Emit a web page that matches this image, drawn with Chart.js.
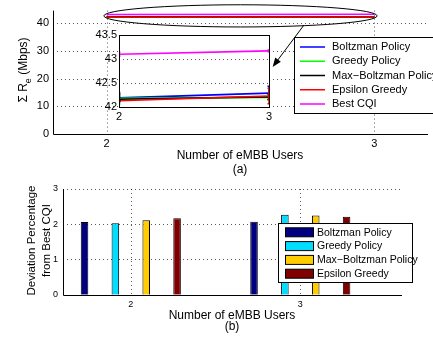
<!DOCTYPE html>
<html>
<head>
<meta charset="utf-8">
<script src="https://cdn.jsdelivr.net/npm/chart.js@4.4.1/dist/chart.umd.min.js"></script>
<style>
  html, body { margin: 0; padding: 0; background: #fff; overflow: hidden; }
  #wrap { position: relative; width: 433px; height: 338px; }
  canvas { position: absolute; }
  #top { left: 0; top: 0; }
  #inset { left: 80px; top: 25px; }
  #bottom { left: 0; top: 178px; }
</style>
</head>
<body>
<div id="wrap">
  <canvas id="top" width="433" height="178" style="width:433px;height:178px"></canvas>
  <canvas id="inset" width="200" height="110" style="width:200px;height:110px"></canvas>
  <canvas id="bottom" width="433" height="160" style="width:433px;height:160px"></canvas>
</div>
<script>
// number of eMBB users (x values)
const users = [2, 3];
const policyNames = ['Boltzman Policy', 'Greedy Policy', 'Max\u2212Boltzman Policy', 'Epsilon Greedy', 'Best CQI'];

// (a) sum rate, Mbps
const boltzmanRate = [42.19, 42.29];
const greedyRate = [42.18, 42.20];
const maxBoltzmanRate = [42.16, 42.21];
const epsilonRate = [42.13, 42.23];
const bestCqiRate = [43.10, 43.17];
// half-width of the error bars seen in the zoomed inset
const boltzmanErr = [0.06, 0.14];
const greedyErr = [0.12, 0.05];
const maxBoltzmanErr = [0.05, 0.05];
const epsilonErr = [0.15, 0.16];
const bestCqiErr = [0.04, 0.02];

// (b) deviation from best CQI, %
const boltzmanDev = [2.06, 2.07];
const greedyDev = [2.03, 2.27];
const maxBoltzmanDev = [2.11, 2.25];
const epsilonDev = [2.17, 2.21];

const rateTicks = [0, 10, 20, 30, 40];
const insetTicks = [42, 42.5, 43, 43.5];
const devTicks = [0, 1, 2, 3];

const rateSeries = [boltzmanRate, greedyRate, maxBoltzmanRate, epsilonRate, bestCqiRate];
const errSeries = [boltzmanErr, greedyErr, maxBoltzmanErr, epsilonErr, bestCqiErr];
const devSeries = [boltzmanDev, greedyDev, maxBoltzmanDev, epsilonDev];

const lineColors = ['#0000ff', '#00ff00', '#000000', '#ff0000', '#ff00ff'];
const barColors = ['#000080', '#00ddff', '#ffcc00', '#800000'];
const FONT = "'Liberation Sans', Arial, Helvetica, sans-serif";
const GRID = 'rgba(0,0,0,0.65)';

const setTicks = (vals) => (s) => { s.ticks = vals.map((v) => ({ value: v })); };

function lineDatasets(width) {
  return rateSeries.map((vals, i) => ({
    label: policyNames[i],
    data: users.map((u, j) => ({ x: u, y: vals[j] })),
    borderColor: lineColors[i],
    backgroundColor: lineColors[i],
    borderWidth: width,
    pointRadius: 0,
    fill: false,
    order: rateSeries.length - i,
  }));
}

// scales only place ticks and labels; grid and axis lines are drawn by the plugin below
function axis(o) {
  return {
    type: 'linear',
    min: o.min,
    max: o.max,
    offset: false,
    afterBuildTicks: setTicks(o.ticks),
    afterFit: o.fit,
    grid: { display: false, drawTicks: false },
    border: { display: false },
    ticks: { color: '#000', padding: o.pad, font: { family: FONT, size: o.size }, callback: (v) => String(v) },
  };
}

// dotted grid at the listed ticks + solid left/bottom axis lines
const gridLines = (xTicks, yTicks, axes) => ({
  id: 'gridLines',
  beforeDatasetsDraw(chart) {
    const { ctx, chartArea: a, scales: { x, y } } = chart;
    ctx.save();
    ctx.strokeStyle = GRID;
    ctx.lineWidth = 1;
    ctx.setLineDash([1, 3]);
    xTicks.filter((v) => v > x.min && v < x.max).forEach((v) => {
      const px = Math.round(x.getPixelForValue(v)) + 0.5;
      ctx.beginPath();
      ctx.moveTo(px, a.top);
      ctx.lineTo(px, a.bottom);
      ctx.stroke();
    });
    yTicks.filter((v) => v > y.min).forEach((v) => {
      const py = Math.round(y.getPixelForValue(v)) + 0.5;
      ctx.beginPath();
      ctx.moveTo(a.left, py);
      ctx.lineTo(a.right, py);
      ctx.stroke();
    });
    ctx.setLineDash([]);
    if (axes) {
      ctx.strokeStyle = '#000';
      const l = Math.round(a.left) + 0.5, b = Math.round(a.bottom) + 0.5;
      ctx.beginPath();
      ctx.moveTo(l, a.top);
      ctx.lineTo(l, b);
      ctx.lineTo(a.right, b);
      ctx.stroke();
    }
    ctx.restore();
  },
});

const baseOptions = (padding, scales) => ({
  responsive: false,
  animation: false,
  events: [],
  layout: { padding },
  plugins: { legend: { display: false }, tooltip: { enabled: false } },
  scales,
});

// --- top chart decorations: ellipse, arrow, titles, legend ---
const topDecor = {
  id: 'topDecor',
  afterDraw(chart) {
    const { ctx, scales: { x, y } } = chart;
    ctx.save();
    // ellipse around the curves (data coords)
    const cx = x.getPixelForValue(2.5), cy = y.getPixelForValue(42.6);
    const rx = x.getPixelForValue(3.01) - cx, ry = cy - y.getPixelForValue(46.6);
    ctx.strokeStyle = '#000';
    ctx.lineWidth = 1;
    ctx.beginPath();
    ctx.ellipse(cx, cy, rx, ry, 0, 0, Math.PI * 2);
    ctx.stroke();
    // arrow to the inset
    const x1 = x.getPixelForValue(2.737), y1 = y.getPixelForValue(39.3);
    const x2 = x.getPixelForValue(2.62), y2 = y.getPixelForValue(24.2);
    const ang = Math.atan2(y2 - y1, x2 - x1);
    ctx.beginPath();
    ctx.moveTo(x1, y1);
    ctx.lineTo(x2 - 6 * Math.cos(ang), y2 - 6 * Math.sin(ang));
    ctx.stroke();
    ctx.beginPath();
    ctx.moveTo(x2, y2);
    ctx.lineTo(x2 - 9 * Math.cos(ang) + 3.5 * Math.sin(ang), y2 - 9 * Math.sin(ang) - 3.5 * Math.cos(ang));
    ctx.lineTo(x2 - 9 * Math.cos(ang) - 3.5 * Math.sin(ang), y2 - 9 * Math.sin(ang) + 3.5 * Math.cos(ang));
    ctx.closePath();
    ctx.fillStyle = '#000';
    ctx.fill();

    // x title
    ctx.fillStyle = '#000';
    ctx.textAlign = 'center';
    ctx.textBaseline = 'middle';
    ctx.font = `12px ${FONT}`;
    ctx.fillText('Number of eMBB Users', 240, 156);
    ctx.fillText('(a)', 240, 170);

    // y title with subscript
    ctx.translate(23, 70);
    ctx.rotate(-Math.PI / 2);
    ctx.textAlign = 'left';
    ctx.textBaseline = 'alphabetic';
    ctx.font = `12px ${FONT}`;
    const a = '\u03A3 R', b = ' (Mbps)';
    const wa = ctx.measureText(a).width, wb = ctx.measureText(b).width;
    ctx.font = `9px ${FONT}`;
    const ws = ctx.measureText('e').width;
    const px = -(wa + ws + wb) / 2;
    ctx.font = `12px ${FONT}`;
    ctx.fillText(a, px, 4);
    ctx.font = `9px ${FONT}`;
    ctx.fillText('e', px + wa, 8);
    ctx.font = `12px ${FONT}`;
    ctx.fillText(b, px + wa + ws, 4);
    ctx.setTransform(1, 0, 0, 1, 0, 0);

    // legend
    ctx.fillStyle = '#fff';
    ctx.fillRect(294.5, 37.5, 150, 76);
    ctx.strokeStyle = '#000';
    ctx.lineWidth = 1;
    ctx.strokeRect(294.5, 37.5, 150, 76);
    ctx.font = `11px ${FONT}`;
    ctx.textBaseline = 'middle';
    ctx.textAlign = 'left';
    chart.data.datasets.forEach((ds, i) => {
      const ly = 47 + i * 14.25;
      ctx.strokeStyle = ds.borderColor;
      ctx.lineWidth = 1.5;
      ctx.beginPath();
      ctx.moveTo(300, ly);
      ctx.lineTo(325, ly);
      ctx.stroke();
      ctx.fillStyle = '#000';
      ctx.fillText(ds.label, 332, ly);
    });
    ctx.restore();
  },
};

new Chart(document.getElementById('top'), {
  type: 'line',
  data: { datasets: lineDatasets(1.5) },
  options: baseOptions({ top: 7, right: 5, left: 0, bottom: 0 }, {
    x: axis({ min: 1.8, max: 3.2, ticks: users, fit: (s) => { s.height = 44; }, pad: 3, size: 11 }),
    y: axis({ min: 0, max: 44.5, ticks: rateTicks, fit: (s) => { s.width = 53; }, pad: 4, size: 11 }),
  }),
  plugins: [gridLines(users, rateTicks, true), topDecor],
});

// --- inset zoom ---
const insetFrame = {
  id: 'insetFrame',
  beforeDraw(chart) {
    const { ctx, chartArea: a } = chart;
    ctx.save();
    ctx.fillStyle = '#fff';
    ctx.fillRect(a.left, a.top, a.right - a.left, a.bottom - a.top);
    ctx.restore();
  },
  afterDatasetsDraw(chart) {
    const { ctx, chartArea: a, scales: { x, y } } = chart;
    ctx.save();
    ctx.beginPath();
    ctx.rect(a.left, a.top, a.right - a.left, a.bottom - a.top);
    ctx.clip();
    rateSeries.forEach((vals, i) => {
      ctx.strokeStyle = lineColors[i];
      ctx.lineWidth = 1.5;
      users.forEach((u, j) => {
        const px = x.getPixelForValue(u);
        const lo = y.getPixelForValue(vals[j] - errSeries[i][j]);
        const hi = y.getPixelForValue(vals[j] + errSeries[i][j]);
        ctx.beginPath();
        ctx.moveTo(px, lo);
        ctx.lineTo(px, hi);
        ctx.moveTo(px - 1.5, lo);
        ctx.lineTo(px + 1.5, lo);
        ctx.moveTo(px - 1.5, hi);
        ctx.lineTo(px + 1.5, hi);
        ctx.stroke();
      });
    });
    ctx.restore();
  },
  afterDraw(chart) {
    const { ctx, chartArea: a } = chart;
    ctx.save();
    ctx.strokeStyle = '#000';
    ctx.lineWidth = 1;
    ctx.strokeRect(Math.round(a.left) + 0.5, Math.round(a.top) + 0.5, Math.round(a.right - a.left), Math.round(a.bottom - a.top));
    ctx.restore();
  },
};

new Chart(document.getElementById('inset'), {
  type: 'line',
  data: { datasets: lineDatasets(1.6) },
  options: baseOptions({ top: 10, right: 11, left: 0, bottom: 0 }, {
    x: axis({ min: 2, max: 3, ticks: users, fit: (s) => { s.height = 28; }, pad: 3, size: 11 }),
    y: axis({ min: 42, max: 43.5, ticks: insetTicks, fit: (s) => { s.width = 39; }, pad: 2, size: 11 }),
  }),
  plugins: [gridLines([], insetTicks.slice(0, -1), false), insetFrame],
});

// --- (b) bar chart ---
const bottomDecor = {
  id: 'bottomDecor',
  afterDraw(chart) {
    const { ctx } = chart;
    ctx.save();
    ctx.fillStyle = '#000';
    ctx.textAlign = 'center';
    ctx.textBaseline = 'middle';
    ctx.font = `12px ${FONT}`;
    ctx.fillText('Number of eMBB Users', 232, 138);
    ctx.fillText('(b)', 232, 149);

    ctx.font = `11.5px ${FONT}`;
    ctx.translate(0, 62.5);
    ctx.rotate(-Math.PI / 2);
    ctx.fillText('Deviation Percentage', 0, 31.5);
    ctx.fillText('from Best CQI', 0, 46.5);
    ctx.setTransform(1, 0, 0, 1, 0, 0);

    // legend
    ctx.fillStyle = '#fff';
    ctx.fillRect(278.5, 45.5, 134, 59);
    ctx.strokeStyle = '#000';
    ctx.lineWidth = 1;
    ctx.strokeRect(278.5, 45.5, 134, 59);
    ctx.font = `10.5px ${FONT}`;
    ctx.textAlign = 'left';
    chart.data.datasets.forEach((ds, i) => {
      const ly = 54.3 + i * 13.8;
      ctx.fillStyle = ds.backgroundColor;
      ctx.fillRect(285.5, ly - 4.5, 28, 9);
      ctx.strokeStyle = '#000';
      ctx.strokeRect(285.5, ly - 4.5, 28, 9);
      ctx.fillStyle = '#000';
      ctx.fillText(ds.label, 317, ly + 0.5);
    });
    ctx.restore();
  },
};

new Chart(document.getElementById('bottom'), {
  type: 'bar',
  data: {
    datasets: devSeries.map((vals, i) => ({
      label: policyNames[i],
      data: users.map((u, j) => ({ x: u, y: vals[j] })),
      backgroundColor: barColors[i],
      borderColor: '#000',
      borderWidth: 1,
      categoryPercentage: 0.728,
      barPercentage: 0.245,
    })),
  },
  options: baseOptions({ top: 11, right: 31, left: 0, bottom: 0 }, {
    x: axis({ min: 1.6, max: 3.6, ticks: users, fit: (s) => { s.height = 43.3; }, pad: 4, size: 9 }),
    y: axis({ min: 0, max: 3, ticks: devTicks, fit: (s) => { s.width = 63; }, pad: 5, size: 9 }),
  }),
  plugins: [gridLines(users, devTicks, true), bottomDecor],
});
</script>
</body>
</html>
